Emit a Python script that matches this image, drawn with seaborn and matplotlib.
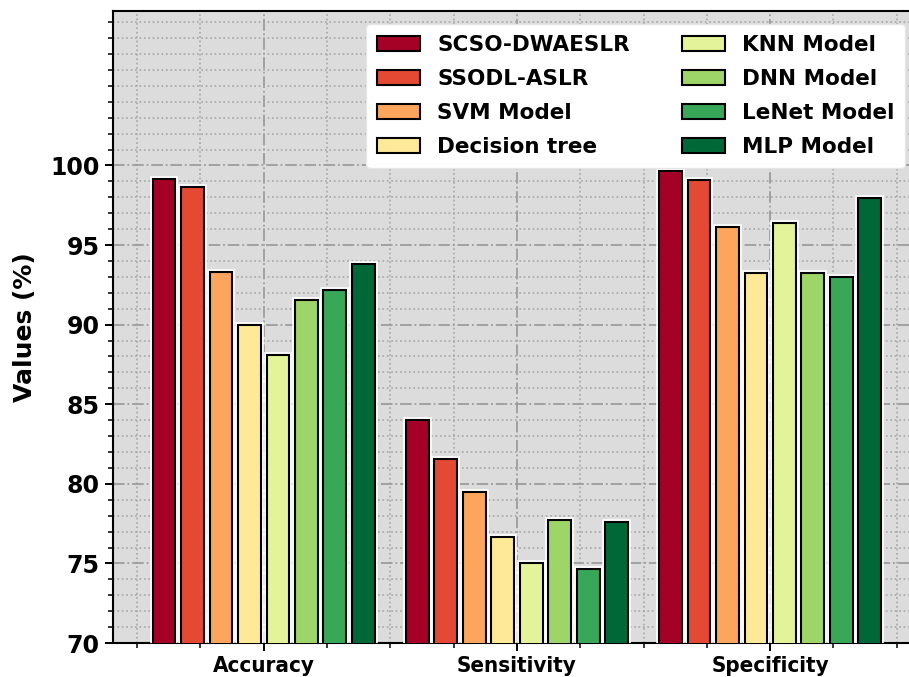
import numpy as np
import pandas as pd
import matplotlib
matplotlib.use("Agg")
import matplotlib.pyplot as plt
import matplotlib.patheffects as pe
from matplotlib.colors import to_hex
from matplotlib.ticker import MultipleLocator
import seaborn as sns

# ---- data -------------------------------------------------------------
metrics = ["Accuracy", "Sensitivity", "Specificity"]
models = ["SCSO-DWAESLR", "SSODL-ASLR", "SVM Model", "Decision tree",
          "KNN Model", "DNN Model", "LeNet Model", "MLP Model"]
accuracy = [99.17, 98.62, 93.33, 90.00, 88.10, 91.55, 92.20, 93.80]
sensitivity = [84.04, 81.53, 79.50, 76.63, 75.02, 77.72, 74.64, 77.61]
specificity = [99.64, 99.10, 96.13, 93.24, 96.40, 93.24, 92.97, 97.97]
y_ticks = [70, 75, 80, 85, 90, 95, 100]

df = pd.DataFrame({
    "Metric": np.repeat(metrics, len(models)),
    "Model": models * len(metrics),
    "Value": accuracy + sensitivity + specificity,
})

# RdYlGn sampled end to end, one colour per model
colors = [to_hex(c) for c in plt.cm.RdYlGn(np.linspace(0, 1, len(models)))]

# ---- figure -----------------------------------------------------------
sns.set_theme(style="ticks")
plt.rcParams["font.family"] = ["DejaVu Sans"]
plt.rcParams["font.weight"] = "bold"
plt.rcParams["text.color"] = "black"
plt.rcParams["axes.labelcolor"] = "black"
plt.rcParams["xtick.color"] = "black"
plt.rcParams["ytick.color"] = "black"

fig = plt.figure(figsize=(9.09, 6.77), dpi=100)
ax = fig.add_axes([0.1243, 0.0502, 0.8887, 0.9335])
ax.set_facecolor("#dcdcdc")

sns.barplot(data=df, x="Metric", y="Value", hue="Model",
            order=metrics, hue_order=models, palette=colors, saturation=1,
            width=0.9, gap=0.2, edgecolor="black", linewidth=1.5,
            errorbar=None, ax=ax, zorder=3)

for bar in ax.patches:
    bar.set_path_effects([pe.Stroke(linewidth=4, foreground="white"),
                          pe.Normal()])

ax.set_xlim(-0.595, 2.595)
ax.set_ylim(70, 109.7)
ax.set_yticks(y_ticks)
ax.yaxis.set_minor_locator(MultipleLocator(1))
ax.xaxis.set_minor_locator(MultipleLocator(0.25))

ax.set_axisbelow(True)
ax.grid(which="major", linestyle="-.", color="#9c9c9c", linewidth=1.3)
ax.grid(which="minor", linestyle=":", color="#a6a6a6", linewidth=1.2)

ax.tick_params(which="major", direction="out", length=6, width=1.4,
               color="black", labelcolor="black")
ax.tick_params(axis="y", which="major", labelsize=17)
ax.tick_params(axis="x", which="major", labelsize=16)
ax.tick_params(which="minor", direction="out", length=3.5, width=1.1,
               color="black")
for lbl in ax.get_yticklabels():
    lbl.set_fontweight("bold")
for lbl in ax.get_xticklabels():
    lbl.set_fontweight("bold")
    lbl.set_fontstretch("condensed")

for sp in ax.spines.values():
    sp.set_visible(True)
    sp.set_color("black")
    sp.set_linewidth(1.5)

ax.set_xlabel("")
ax.set_ylabel("Values (%)", fontsize=18, fontweight="bold", labelpad=10,
              color="black")

leg = ax.legend(loc="upper right", bbox_to_anchor=(905 / 909, 1 - 24 / 677),
                bbox_transform=fig.transFigure, borderaxespad=0,
                ncol=2, frameon=True, fancybox=True,
                framealpha=1.0, facecolor="white", edgecolor="#e6e6e6",
                prop={"weight": "bold", "size": 15.5},
                labelspacing=0.66, columnspacing=2.4,
                handlelength=2.0, handletextpad=0.8, borderpad=0.5)
for txt in leg.get_texts():
    txt.set_color("black")
leg.set_zorder(5)

fig.savefig("out.png", dpi=100)
